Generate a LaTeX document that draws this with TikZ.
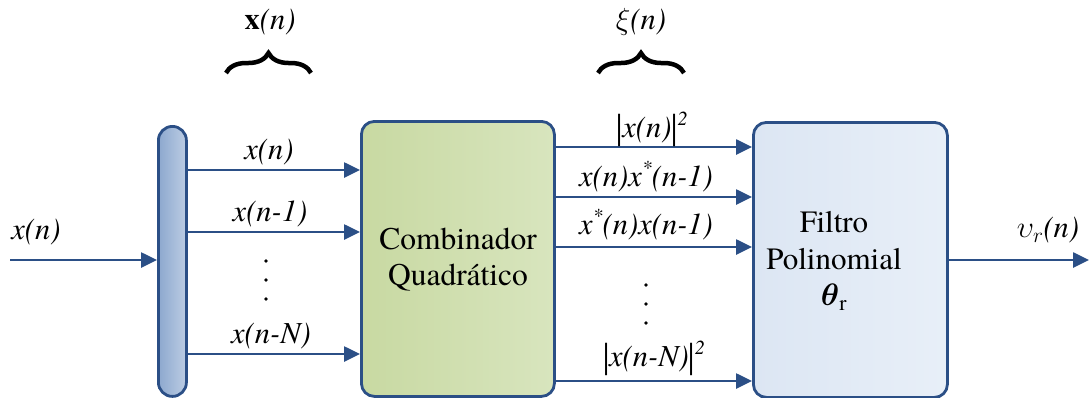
\RequirePackage{fix-cm}
\documentclass[tikz,border=0pt]{standalone}
\usepackage{fontspec}
\setmainfont{texgyretermes}[Extension=.otf, UprightFont=*-regular, ItalicFont=*-italic, BoldFont=*-bold, BoldItalicFont=*-bolditalic]
\usepackage{graphicx}
\usetikzlibrary{arrows.meta,decorations.pathreplacing}
\definecolor{edge}{HTML}{2B4F86}
\definecolor{barL}{HTML}{8DA8CE}
\definecolor{barR}{HTML}{BCCDE4}
\definecolor{grnL}{HTML}{C8D9A2}
\definecolor{grnR}{HTML}{D8E5BE}
\definecolor{bluL}{HTML}{DCE6F3}
\definecolor{bluR}{HTML}{E8EFF8}
\newcommand{\tbar}{\raisebox{-3pt}{\scalebox{1}[1.3]{\textup{|}}}}
\newcommand{\sups}[1]{\raisebox{12pt}{\fontsize{20}{20}\selectfont #1}}
\begin{document}
\begin{tikzpicture}[x=1pt,y=-1pt,
  arr/.style={draw=edge, line width=2.6pt, -{Triangle[length=16pt,width=15pt]}},
  blk/.style={draw=edge, line width=2.8pt, rounded corners=13pt, anchor=north west, inner sep=0pt},
  lab/.style={font=\fontsize{30.5}{36}\selectfont\itshape, inner sep=0pt},
  txt/.style={font=\fontsize{31.5}{36}\selectfont, align=center, inner sep=0pt},
  brc/.style={decorate, decoration={brace, amplitude=20pt}, line width=4.5pt},
  dot/.style={circle, fill=black, inner sep=0pt, minimum size=3.6pt}]
\useasboundingbox (0,0) rectangle (1089,397);
% blocks
\node[blk, left color=barL, right color=barR, rounded corners=14pt, minimum width=28pt, minimum height=270pt] (bar) at (157,125) {};
\node[blk, left color=grnL, right color=grnR, minimum width=193pt, minimum height=275pt] (comb) at (360,120) {};
\node[blk, left color=bluL, right color=bluR, minimum width=194pt, minimum height=275pt] (filt) at (752,121) {};
\node[txt] (combtxt) at (458,260) {Combinador\\Quadrático};
\node[txt, font=\fontsize{31}{36.5}\selectfont] (filttxt) at (834,261) {Filtro\\Polinomial\\{\boldmath$\theta$}\textsubscript{r}};
% input
\coordinate (in) at (10,260);
\draw[arr] (in) -- (bar.west |- in);
\node[lab] (inlab) at (36,232) {x(n)};
% bar outputs
\coordinate (b1) at (185,170);
\coordinate (b2) at (185,232);
\coordinate (b3) at (185,354);
\draw[arr] (b1) -- (comb.west |- b1);
\draw[arr] (b2) -- (comb.west |- b2);
\draw[arr] (b3) -- (comb.west |- b3);
\node[lab] (l1) at (269,152) {x(n)};
\node[lab] (l2) at (270,214) {x(n-1)};
\node[lab] (l3) at (271,336) {x(n-N)};
\node[dot] (d1) at (266,261) {};
\node[dot] (d2) at (266,280) {};
\node[dot] (d3) at (266,299) {};
% comb outputs
\coordinate (c1) at (553,147);
\coordinate (c2) at (553,197);
\coordinate (c3) at (553,247);
\coordinate (c4) at (553,381);
\draw[arr] (c1) -- (filt.west |- c1);
\draw[arr] (c2) -- (filt.west |- c2);
\draw[arr] (c3) -- (filt.west |- c3);
\draw[arr] (c4) -- (filt.west |- c4);
\node[lab] (m1) at (652,129) {\tbar x(n)\tbar\sups{2}};
\node[lab] (m2) at (646,177) {x(n)x\sups{*}(n-1)};
\node[lab] (m3) at (646,225) {x\sups{*}(n)x(n-1)};
\node[lab] (m4) at (654,358) {\tbar x(n-N)\tbar\sups{2}};
\node[dot] (e1) at (646,285) {};
\node[dot] (e2) at (646,304) {};
\node[dot] (e3) at (646,323) {};
% output
\coordinate (out) at (1089,260);
\draw[arr] (filt.east |- out) -- (out);
\node[lab] (outlab) at (1048,230) {$\upsilon_r$(n)};
% braces
\coordinate (x1) at (226,73);
\coordinate (x2) at (311,73);
\coordinate (y1) at (598,73);
\coordinate (y2) at (684,73);
\draw[brc] (x1) -- (x2);
\draw[brc] (y1) -- (y2);
\node[lab] (xvec) at (270,22) {\textup{\textbf{x}}(n)};
\node[lab] (xi) at (641,22) {$\xi$(n)};
\end{tikzpicture}
\end{document}
